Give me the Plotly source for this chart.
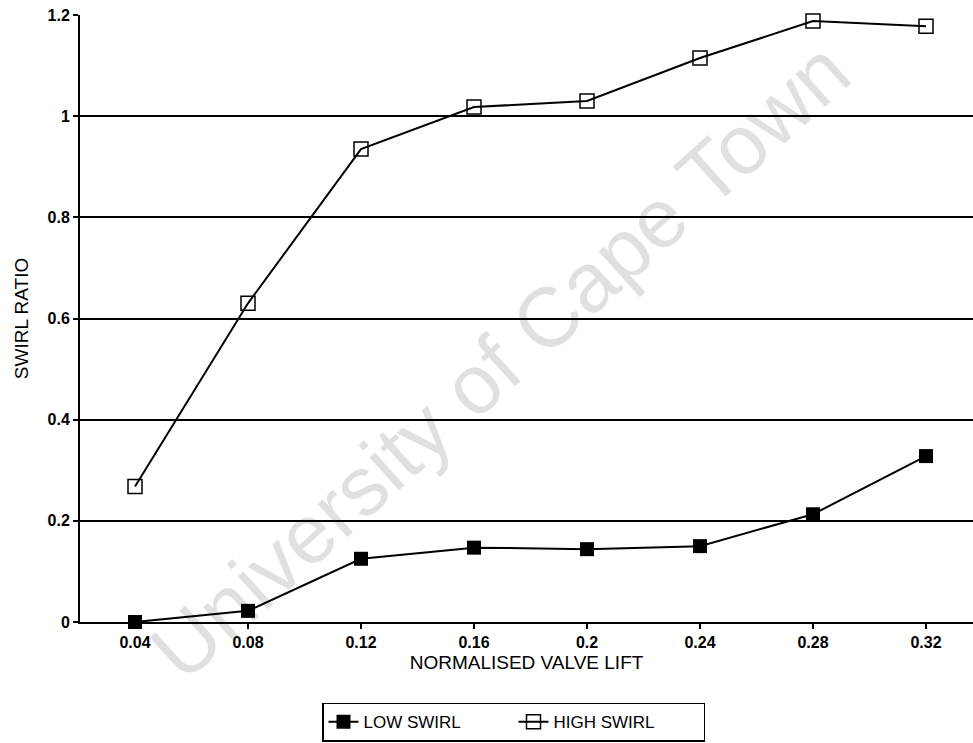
import plotly.graph_objects as go

lift = [0.04, 0.08, 0.12, 0.16, 0.20, 0.24, 0.28, 0.32]
low_swirl = [0.0, 0.022, 0.125, 0.147, 0.144, 0.150, 0.213, 0.328]
high_swirl = [0.268, 0.630, 0.935, 1.018, 1.030, 1.115, 1.188, 1.178]
x_ticks = [0.04, 0.08, 0.12, 0.16, 0.20, 0.24, 0.28, 0.32]
x_tick_labels = ["0.04", "0.08", "0.12", "0.16", "0.2", "0.24", "0.28", "0.32"]
y_ticks = [0, 0.2, 0.4, 0.6, 0.8, 1.0, 1.2]
y_tick_labels = ["0", "0.2", "0.4", "0.6", "0.8", "1", "1.2"]

fig = go.Figure()
fig.add_trace(go.Scatter(
    x=lift, y=low_swirl, name="LOW SWIRL", mode="lines+markers",
    line=dict(color="black", width=2),
    marker=dict(symbol="square", size=14, color="black"),
    cliponaxis=False,
))
fig.add_trace(go.Scatter(
    x=lift, y=high_swirl, name="HIGH SWIRL", mode="lines+markers",
    line=dict(color="black", width=2),
    marker=dict(symbol="square-open", size=14, color="black", line=dict(width=1.5)),
    cliponaxis=False,
))

fig.add_annotation(
    text="University of Cape Town", xref="paper", yref="paper",
    x=0.47, y=0.43, showarrow=False, textangle=-42,
    font=dict(family="Liberation Sans", size=84, color="rgba(0,0,0,0.12)"),
)

fig.update_layout(
    width=973, height=743,
    margin=dict(l=80, r=0, t=15, b=121),
    paper_bgcolor="white", plot_bgcolor="white",
    font=dict(family="Liberation Sans", color="black"),
    showlegend=True,
    legend=dict(
        orientation="h", x=0.271, y=-0.133, xanchor="left", yanchor="top",
        bordercolor="black", borderwidth=1.5,
        font=dict(size=17, family="Liberation Sans"),
        entrywidth=145, entrywidthmode="pixels",
    ),
    xaxis=dict(
        range=[0.02053, 0.33664], tickvals=x_ticks, ticktext=x_tick_labels,
        showgrid=False, zeroline=False,
        showline=True, linecolor="black", linewidth=2,
        ticks="outside", ticklen=5, tickwidth=1.5, tickcolor="black",
        tickfont=dict(size=16, weight="bold"),
        title=dict(text="NORMALISED VALVE LIFT", font=dict(size=19), standoff=5),
    ),
    yaxis=dict(
        range=[0, 1.2], tickvals=y_ticks, ticktext=y_tick_labels,
        showgrid=True, gridcolor="black", gridwidth=1.8, zeroline=False,
        showline=True, linecolor="black", linewidth=2,
        ticks="outside", ticklen=5, tickwidth=1.5, tickcolor="black",
        tickfont=dict(size=16, weight="bold"),
        title=dict(text="SWIRL RATIO", font=dict(size=19), standoff=14),
    ),
)

fig.write_html("out.html")
